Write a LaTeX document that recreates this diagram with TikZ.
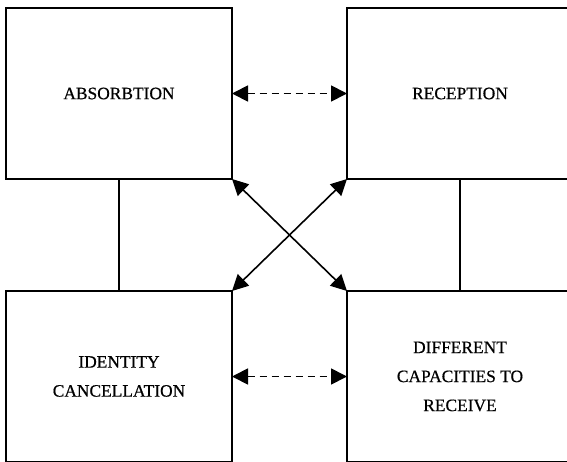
\documentclass[tikz,border=0pt]{standalone}
\usepackage{fontspec}
\setmainfont{Liberation Serif}[FakeBold=0.6]
\usetikzlibrary{arrows.meta}
\begin{document}
\begin{tikzpicture}[x=1pt,y=-1pt,
  box/.style={draw, line width=1.6pt, minimum width=226pt, minimum height=171pt,
    inner sep=0pt, outer sep=0pt, align=center, font=\fontsize{17.4}{29}\selectfont},
  link/.style={line width=1.6pt},
  tip/.style={{Triangle[length=16pt,width=16pt]}-{Triangle[length=16pt,width=16pt]}},
  dlink/.style={line width=1.8pt, dash pattern=on 7pt off 5pt}
]
\useasboundingbox (0,0) rectangle (567,461);
\clip (0,0) rectangle (567,461);
\node[box] (tl) at (119,93.5) {ABSORBTION};
\node[box] (tr) at (460,93.5) {RECEPTION};
\node[box] (bl) at (119,376.5) {IDENTITY\\CANCELLATION};
\node[box] (br) at (460,376.5) {DIFFERENT\\CAPACITIES TO\\RECEIVE};
\draw[link] (tl.south) -- (bl.north);
\draw[link] (tr.south) -- (br.north);
\draw[dlink, tip] (tl.east) -- (tr.west);
\draw[dlink, tip] (bl.east) -- (br.west);
\draw[link, tip] (tl.south east) -- (br.north west);
\draw[link, tip] (tr.south west) -- (bl.north east);
\end{tikzpicture}
\end{document}
